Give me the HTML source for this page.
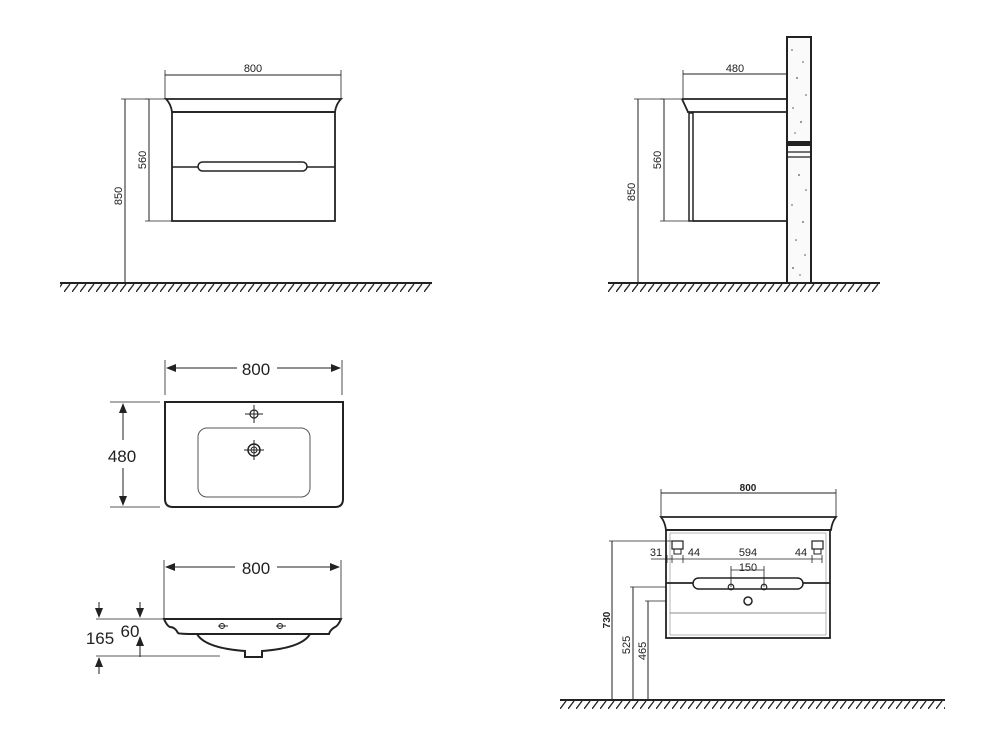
<!DOCTYPE html>
<html><head><meta charset="utf-8"><style>
html,body{margin:0;padding:0;background:#fff;}
svg{display:block;}
text{font-family:"Liberation Sans",sans-serif;fill:#222;}
</style></head><body>
<svg width="1000" height="750" viewBox="0 0 1000 750" xmlns="http://www.w3.org/2000/svg">
<defs>
<pattern id="hatch" x="0" y="284" width="8" height="8" patternUnits="userSpaceOnUse">
<line x1="0" y1="8" x2="6" y2="0" stroke="#222" stroke-width="1.3"/>
</pattern>
<pattern id="hatch2" x="0" y="701" width="8" height="8" patternUnits="userSpaceOnUse">
<line x1="0" y1="8" x2="6" y2="0" stroke="#222" stroke-width="1.3"/>
</pattern>
<marker id="ar" markerWidth="10" markerHeight="8" refX="9" refY="4" orient="auto-start-reverse" markerUnits="userSpaceOnUse">
<path d="M0,0 L10,4 L0,8 Z" fill="#222"/>
</marker>
</defs>
<g stroke="#222" fill="none">
<!-- Drawing 1 -->
<line x1="60" y1="283" x2="432" y2="283" stroke-width="2"/>
<rect x="60" y="284" width="372" height="8" fill="url(#hatch)" stroke="none"/>
<line x1="165" y1="75" x2="341" y2="75" stroke-width="1"/>
<line x1="165" y1="70" x2="165" y2="99" stroke-width="0.8"/>
<line x1="341" y1="70" x2="341" y2="99" stroke-width="0.8"/>
<path d="M166,99 L341,99 Q336,104 335,112 L172,112 Q171,104 166,99 Z" stroke-width="1.8"/>
<rect x="172" y="112" width="163" height="109" stroke-width="1.8"/>
<line x1="172" y1="167" x2="198" y2="167" stroke-width="1.5"/>
<line x1="307" y1="167" x2="335" y2="167" stroke-width="1.5"/>
<rect x="198" y="162" width="109" height="9" rx="4.5" stroke-width="1.5"/>
<line x1="149" y1="99" x2="149" y2="221" stroke-width="1"/>
<line x1="145" y1="99" x2="166" y2="99" stroke-width="0.8"/>
<line x1="145" y1="221" x2="172" y2="221" stroke-width="0.8"/>
<line x1="125" y1="99" x2="125" y2="283" stroke-width="1"/>
<line x1="121" y1="99" x2="149" y2="99" stroke-width="0.8"/>

<!-- Drawing 2 -->
<line x1="608" y1="283" x2="880" y2="283" stroke-width="2"/>
<rect x="608" y="284" width="272" height="8" fill="url(#hatch)" stroke="none"/>
<rect x="787" y="37" width="24" height="246" stroke-width="2" fill="#fafafa"/>
<rect x="787" y="141" width="24" height="5" fill="#222" stroke="none"/>
<line x1="787" y1="152" x2="811" y2="152" stroke-width="1.2"/>
<line x1="787" y1="157" x2="811" y2="157" stroke-width="1.2"/>
<g fill="#555" stroke="none">
<circle cx="792" cy="50" r="0.8"/><circle cx="803" cy="62" r="0.8"/><circle cx="797" cy="78" r="0.9"/><circle cx="806" cy="95" r="0.8"/><circle cx="793" cy="108" r="0.8"/><circle cx="801" cy="122" r="0.9"/><circle cx="795" cy="133" r="0.7"/><circle cx="799" cy="175" r="0.9"/><circle cx="806" cy="190" r="0.8"/><circle cx="792" cy="205" r="0.8"/><circle cx="803" cy="222" r="0.9"/><circle cx="796" cy="240" r="0.8"/><circle cx="805" cy="255" r="0.8"/><circle cx="793" cy="268" r="0.9"/><circle cx="800" cy="275" r="0.7"/>
</g>
<line x1="683" y1="74" x2="787" y2="74" stroke-width="1"/>
<line x1="683" y1="70" x2="683" y2="99" stroke-width="0.8"/>
<path d="M682,99 L787,99 M687,112 L787,112 M682,99 L688,112" stroke-width="1.8"/>
<rect x="689" y="113" width="4" height="108" stroke-width="1.5"/>
<line x1="693" y1="221" x2="787" y2="221" stroke-width="1.8"/>
<line x1="664" y1="99" x2="664" y2="221" stroke-width="1"/>
<line x1="660" y1="99" x2="682" y2="99" stroke-width="0.8"/>
<line x1="660" y1="221" x2="689" y2="221" stroke-width="0.8"/>
<line x1="638" y1="99" x2="638" y2="283" stroke-width="1"/>
<line x1="634" y1="99" x2="664" y2="99" stroke-width="0.8"/>

<!-- Drawing 3 -->
<line x1="165" y1="360" x2="165" y2="395" stroke-width="0.8"/>
<line x1="342" y1="360" x2="342" y2="395" stroke-width="0.8"/>
<line x1="167" y1="368" x2="237" y2="368" stroke-width="1" marker-start="url(#ar)"/>
<line x1="277" y1="368" x2="340" y2="368" stroke-width="1" marker-end="url(#ar)"/>
<path d="M165,402 L343,402 L343,499 Q343,507 335,507 L173,507 Q165,507 165,499 Z" stroke-width="2"/>
<rect x="198" y="428" width="112" height="69" rx="9" stroke-width="1" stroke="#555"/>
<circle cx="254" cy="414" r="4" stroke-width="1.2"/>
<path d="M245,414 H263 M254,405 V423" stroke-width="1"/>
<circle cx="254" cy="450" r="6" stroke-width="1.5"/>
<circle cx="254" cy="450" r="3" stroke-width="1"/>
<path d="M244,450 H264 M254,440 V460" stroke-width="1"/>
<line x1="110" y1="402" x2="160" y2="402" stroke-width="0.8"/>
<line x1="110" y1="507" x2="160" y2="507" stroke-width="0.8"/>
<line x1="123" y1="404" x2="123" y2="440" stroke-width="1" marker-start="url(#ar)"/>
<line x1="123" y1="468" x2="123" y2="505" stroke-width="1" marker-end="url(#ar)"/>

<!-- Drawing 4 -->
<line x1="164" y1="560" x2="164" y2="618" stroke-width="0.8"/>
<line x1="341" y1="560" x2="341" y2="618" stroke-width="0.8"/>
<line x1="166" y1="567" x2="235" y2="567" stroke-width="1" marker-start="url(#ar)"/>
<line x1="277" y1="567" x2="339" y2="567" stroke-width="1" marker-end="url(#ar)"/>
<path d="M164,619 L341,619 Q338,626 335,627 Q330,630 329,634 L197,634 Q178,634 178,633 Q175,627 170,627 Q167,626 164,619 Z" stroke-width="2"/>
<path d="M197,634 Q205,648 245,651 L245,657 L262,657 L262,651 Q302,648 310,634" stroke-width="2"/>
<circle cx="222" cy="626" r="2.5" stroke-width="1"/><line x1="218" y1="626" x2="228" y2="626" stroke-width="1"/>
<circle cx="280" cy="626" r="2.5" stroke-width="1"/><line x1="276" y1="626" x2="286" y2="626" stroke-width="1"/>
<line x1="96" y1="619" x2="164" y2="619" stroke-width="0.8"/>
<line x1="96" y1="656" x2="220" y2="656" stroke-width="0.8"/>
<line x1="99" y1="602" x2="99" y2="617" stroke-width="1" marker-end="url(#ar)"/>
<line x1="99" y1="674" x2="99" y2="658" stroke-width="1" marker-end="url(#ar)"/>
<line x1="140" y1="602" x2="140" y2="617" stroke-width="1" marker-end="url(#ar)"/>
<line x1="140" y1="657" x2="140" y2="637" stroke-width="1" marker-end="url(#ar)"/>

<!-- Drawing 5 -->
<line x1="560" y1="700" x2="945" y2="700" stroke-width="2"/>
<rect x="560" y="701" width="385" height="8" fill="url(#hatch2)" stroke="none"/>
<line x1="661" y1="493" x2="836" y2="493" stroke-width="1"/>
<line x1="661" y1="489" x2="661" y2="517" stroke-width="0.8"/>
<line x1="836" y1="489" x2="836" y2="517" stroke-width="0.8"/>
<path d="M661,517 L836,517 Q832,522 831,530 L666,530 Q665,522 661,517 Z" stroke-width="1.8"/>
<rect x="666" y="530" width="164" height="108" stroke-width="1.8"/>
<rect x="670" y="533" width="156" height="102" stroke-width="0.6" stroke="#888"/>
<line x1="670" y1="613" x2="826" y2="613" stroke-width="0.8" stroke="#666"/>
<line x1="666" y1="583" x2="693" y2="583" stroke-width="1.8"/>
<line x1="803" y1="583" x2="830" y2="583" stroke-width="1.8"/>
<rect x="693" y="578" width="110" height="11" rx="5.5" stroke-width="1.5"/>
<circle cx="731" cy="587" r="2.8" stroke-width="1.2"/>
<circle cx="764" cy="587" r="2.8" stroke-width="1.2"/>
<circle cx="748" cy="601" r="4" stroke-width="1.5"/>
<rect x="672" y="541" width="11" height="8" stroke-width="1.2"/>
<rect x="674" y="549" width="7" height="5" stroke-width="1"/>
<rect x="812" y="541" width="11" height="8" stroke-width="1.2"/>
<rect x="814" y="549" width="7" height="5" stroke-width="1"/>
<line x1="651" y1="559" x2="822" y2="559" stroke-width="0.8"/>
<path d="M667,555 V563 M672,555 V563 M683,555 V563 M812,555 V563 M822,555 V563" stroke-width="0.8"/>
<line x1="731" y1="570" x2="764" y2="570" stroke-width="0.8"/>
<path d="M731,566 V587 M764,566 V587" stroke-width="0.8"/>
<line x1="612" y1="541" x2="612" y2="700" stroke-width="1"/>
<line x1="609" y1="541" x2="672" y2="541" stroke-width="0.8"/>
<line x1="633" y1="587" x2="633" y2="700" stroke-width="1"/>
<line x1="630" y1="587" x2="666" y2="587" stroke-width="0.8"/>
<line x1="648" y1="601" x2="648" y2="700" stroke-width="1"/>
<line x1="645" y1="601" x2="666" y2="601" stroke-width="0.8"/>
</g>
<!-- text -->
<text x="253" y="72" font-size="11" text-anchor="middle">800</text>
<text transform="translate(146,160) rotate(-90)" font-size="11" text-anchor="middle">560</text>
<text transform="translate(122,196) rotate(-90)" font-size="11" text-anchor="middle">850</text>
<text x="735" y="72" font-size="11" text-anchor="middle">480</text>
<text transform="translate(661,160) rotate(-90)" font-size="11" text-anchor="middle">560</text>
<text transform="translate(635,192) rotate(-90)" font-size="11" text-anchor="middle">850</text>
<text x="256" y="375" font-size="17" text-anchor="middle">800</text>
<text x="122" y="462" font-size="17" text-anchor="middle">480</text>
<text x="256" y="574" font-size="17" text-anchor="middle">800</text>
<text x="100" y="644" font-size="17" text-anchor="middle">165</text>
<text x="130" y="637" font-size="17" text-anchor="middle">60</text>
<text x="748" y="491" font-size="10" text-anchor="middle" font-weight="bold">800</text>
<text x="656" y="556" font-size="11" text-anchor="middle">31</text>
<text x="694" y="556" font-size="11" text-anchor="middle">44</text>
<text x="748" y="556" font-size="11" text-anchor="middle">594</text>
<text x="801" y="556" font-size="11" text-anchor="middle">44</text>
<text x="748" y="571" font-size="11" text-anchor="middle">150</text>
<text transform="translate(610,620) rotate(-90)" font-size="10" text-anchor="middle" font-weight="bold">730</text>
<text transform="translate(630,645) rotate(-90)" font-size="11" text-anchor="middle">525</text>
<text transform="translate(646,651) rotate(-90)" font-size="11" text-anchor="middle">465</text>
</svg>
</body></html>
